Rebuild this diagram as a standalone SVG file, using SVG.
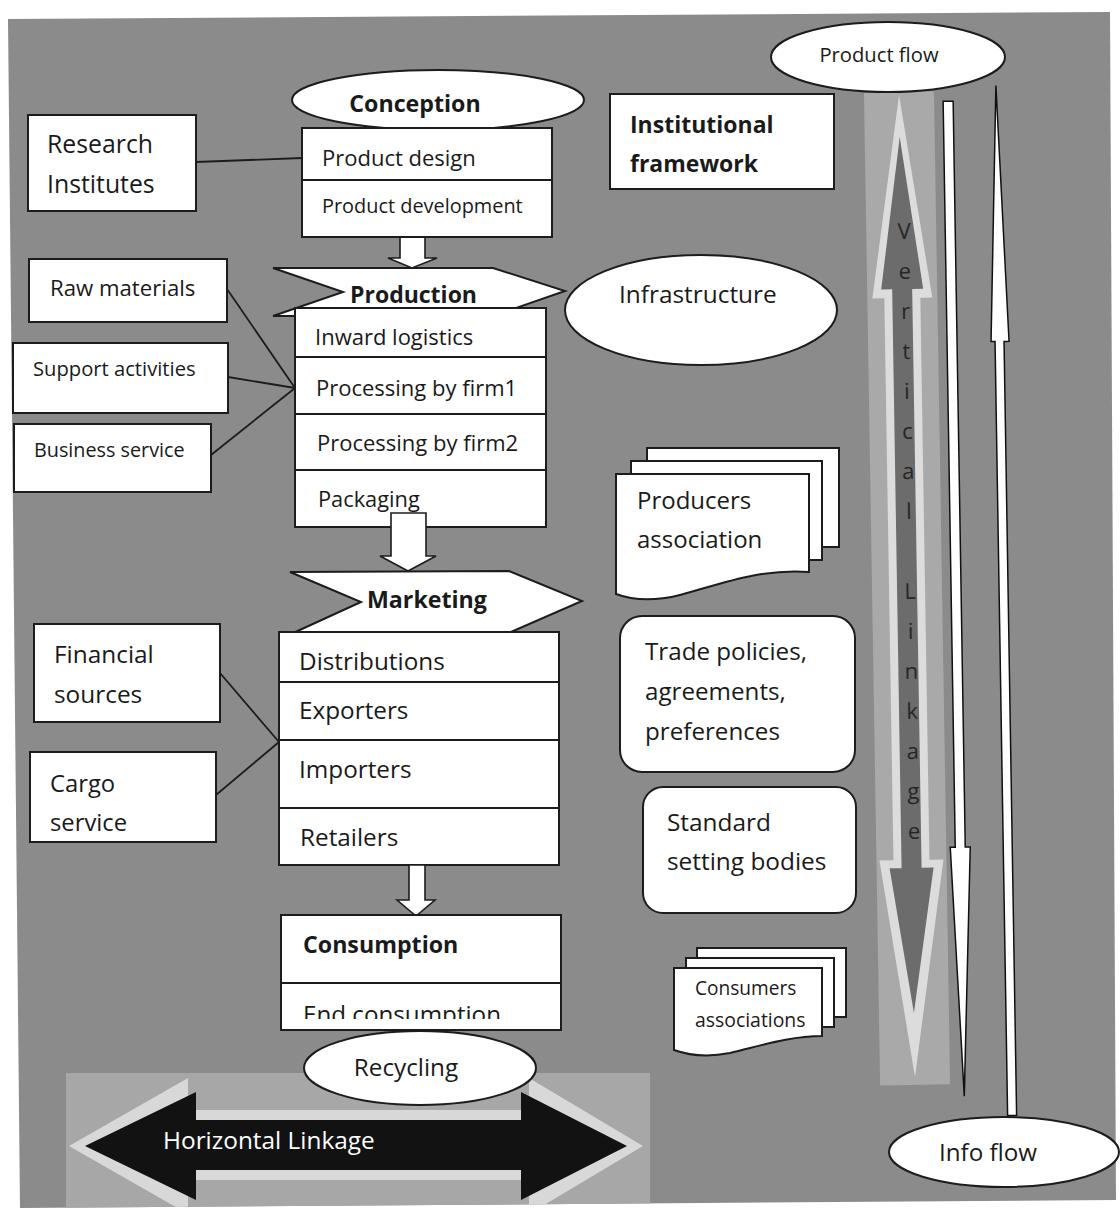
<svg xmlns="http://www.w3.org/2000/svg" width="1120" height="1217" viewBox="0 0 1120 1217">
  <defs>
    <style>
      .box { fill: #ffffff; stroke: #1c1c1c; stroke-width: 2; }
      .link { fill: none; stroke: #1c1c1c; stroke-width: 1.8; }
      .blk { fill: #ffffff; stroke: #1c1c1c; stroke-width: 1.6; stroke-linejoin: miter; }
      .thin { fill: #ffffff; stroke: #111111; stroke-width: 1.5; }
      .t { font-family: "Open Sans", "Liberation Sans", sans-serif; fill: #1a1a1a; }
      .b { font-weight: bold; }
      .vl { font-family: "Open Sans", "Liberation Sans", sans-serif; font-size: 22px; fill: #262626; text-anchor: middle; }
    </style>
    <clipPath id="panelClip">
      <polygon points="8,19 1110,12 1116,1200 20,1208"/>
    </clipPath>
    <clipPath id="endClip">
      <rect x="282" y="984" width="278" height="35"/>
    </clipPath>
  </defs>

  <!-- page -->
  <rect x="0" y="0" width="1120" height="1217" fill="#ffffff"/>
  <!-- grey panel -->
  <polygon points="8,19 1110,12 1116,1200 20,1208" fill="#8b8b8b"/>

  <g clip-path="url(#panelClip)">
    <!-- horizontal linkage band -->
    <g id="horizontal-linkage">
      <rect x="66" y="1073" width="584" height="140" fill="#a7a7a7"/>
      <polygon points="69,1146 188,1078 188,1110 529,1110 529,1078 643,1146 529,1214 529,1180 188,1180 188,1214" fill="#d8d8d8"/>
      <polygon points="85,1146 196,1092 196,1120 521,1120 521,1092 627,1146 521,1200 521,1170 196,1170 196,1200" fill="#121212"/>
      <text class="t" x="163" y="1149" font-size="24.4" style="fill:#ffffff">Horizontal Linkage</text>
    </g>

    <!-- vertical linkage band -->
    <g id="vertical-linkage" transform="rotate(-0.93 907 586)">
      <rect x="872" y="92" width="70" height="993" fill="#a9a9a9"/>
      <polygon points="907,95 937,298 925,298 925,860 939,860 907,1077 875,860 889,860 889,298 877,298" fill="#dcdcdc"/>
      <polygon points="907,137 928,289 917,289 917,868 929,868 907,1013 885,868 897,868 897,289 886,289" fill="#6c6c6c"/>
      <text class="vl" x="910" y="239">V</text>
      <text class="vl" x="910" y="279">e</text>
      <text class="vl" x="910" y="319">r</text>
      <text class="vl" x="910" y="359">t</text>
      <text class="vl" x="910" y="399">i</text>
      <text class="vl" x="910" y="439">c</text>
      <text class="vl" x="910" y="479">a</text>
      <text class="vl" x="910" y="519">l</text>
      <text class="vl" x="910" y="599">L</text>
      <text class="vl" x="910" y="639">i</text>
      <text class="vl" x="910" y="679">n</text>
      <text class="vl" x="910" y="719">k</text>
      <text class="vl" x="910" y="759">a</text>
      <text class="vl" x="910" y="799">g</text>
      <text class="vl" x="910" y="839">e</text>
    </g>
  </g>

  <!-- connectors -->
  <g id="connectors">
    <line class="link" x1="196" y1="162" x2="302" y2="158"/>
    <line class="link" x1="227" y1="289" x2="295" y2="388"/>
    <line class="link" x1="228" y1="377" x2="295" y2="388"/>
    <line class="link" x1="211" y1="455" x2="295" y2="388"/>
    <line class="link" x1="220" y1="673" x2="279" y2="742"/>
    <line class="link" x1="216" y1="795" x2="279" y2="742"/>
    <g transform="rotate(-0.93 907 586)">
      <polygon class="thin" points="951,102 961,102 961,848 966,848 956,1097 946,848 951,848"/>
      <polygon class="thin" points="1004,87 1013,343 1008,343 1008,1117 999,1117 999,343 995,343"/>
    </g>
    <polygon class="blk" points="400,237 425,237 425,258 437,258 412,268 388,258 400,258"/>
  </g>

  <!-- conception stage -->
  <g id="conception">
    <ellipse class="box" cx="438" cy="100" rx="146" ry="30"/>
    <text class="t b" x="415" y="112" font-size="23.2" text-anchor="middle">Conception</text>
  </g>
  <g id="research-institutes">
    <rect class="box" x="28" y="115" width="168" height="96"/>
    <text class="t" x="47" y="153" font-size="24.8">Research</text>
    <text class="t" x="47" y="193" font-size="24.8">Institutes</text>
  </g>
  <g id="product-design">
    <rect class="box" x="302" y="128" width="250" height="109"/>
    <line class="link" x1="302" y1="180" x2="552" y2="180"/>
    <text class="t" x="322" y="166" font-size="22">Product design</text>
    <text class="t" x="322" y="213" font-size="19.9">Product development</text>
  </g>
  <g id="institutional-framework">
    <rect class="box" x="610" y="94" width="224" height="95"/>
    <text class="t b" x="630" y="133" font-size="23">Institutional</text>
    <text class="t b" x="630" y="172" font-size="23">framework</text>
  </g>
  <g id="product-flow">
    <ellipse class="box" cx="888" cy="57" rx="117" ry="35"/>
    <text class="t" x="879" y="62" font-size="20.2" text-anchor="middle">Product flow</text>
  </g>

  <!-- production stage -->
  <g id="production">
    <polygon class="box" points="273,268 493,268 565,291 493,316 273,316 343,292"/>
    <text class="t b" x="350" y="303" font-size="23">Production</text>
  </g>
  <g id="production-steps">
    <rect class="box" x="295" y="308" width="251" height="219"/>
    <line class="link" x1="295" y1="357" x2="546" y2="357"/>
    <line class="link" x1="295" y1="414" x2="546" y2="414"/>
    <line class="link" x1="295" y1="470" x2="546" y2="470"/>
    <text class="t" x="315" y="345" font-size="22">Inward logistics</text>
    <text class="t" x="316" y="396" font-size="22">Processing by firm1</text>
    <text class="t" x="317" y="451" font-size="22">Processing by firm2</text>
    <text class="t" x="318" y="507" font-size="21.8">Packaging</text>
  </g>
  <g id="raw-materials">
    <rect class="box" x="29" y="259" width="198" height="63"/>
    <text class="t" x="50" y="296" font-size="22.2">Raw materials</text>
  </g>
  <g id="support-activities">
    <rect class="box" x="13" y="343" width="215" height="70"/>
    <text class="t" x="33" y="376" font-size="20.2">Support activities</text>
  </g>
  <g id="business-service">
    <rect class="box" x="14" y="424" width="197" height="68"/>
    <text class="t" x="34" y="457" font-size="19.8">Business service</text>
  </g>
  <g id="infrastructure">
    <ellipse class="box" cx="701" cy="310" rx="136" ry="55"/>
    <text class="t" x="619" y="303" font-size="24.4">Infrastructure</text>
  </g>
  <g id="producers-association">
    <rect class="box" x="647" y="448" width="192" height="99"/>
    <rect class="box" x="631" y="461" width="191" height="99"/>
    <path class="box" d="M616,474 H809 V572 C760,568 718,585 680,595 C652,602 632,600 616,594 Z"/>
    <text class="t" x="637" y="509" font-size="24">Producers</text>
    <text class="t" x="637" y="548" font-size="24">association</text>
  </g>

  <!-- marketing stage -->
  <g id="marketing">
    <polygon class="box" points="290,572 509,571 582,601 511,632 291,634 361,602"/>
    <text class="t b" x="367" y="608" font-size="23.2">Marketing</text>
  </g>
  <polygon class="blk" points="391,513 426,513 426,556 436,556 408,571 380,556 391,556"/>
  <g id="marketing-steps">
    <rect class="box" x="279" y="632" width="280" height="233"/>
    <line class="link" x1="279" y1="682" x2="559" y2="682"/>
    <line class="link" x1="279" y1="740" x2="559" y2="740"/>
    <line class="link" x1="279" y1="808" x2="559" y2="808"/>
    <text class="t" x="299" y="670" font-size="24.3">Distributions</text>
    <text class="t" x="299" y="719" font-size="24.3">Exporters</text>
    <text class="t" x="299" y="778" font-size="24.3">Importers</text>
    <text class="t" x="300" y="846" font-size="24.3">Retailers</text>
  </g>
  <g id="financial-sources">
    <rect class="box" x="34" y="624" width="186" height="98"/>
    <text class="t" x="54" y="663" font-size="24.4">Financial</text>
    <text class="t" x="54" y="703" font-size="24.4">sources</text>
  </g>
  <g id="cargo-service">
    <rect class="box" x="30" y="752" width="186" height="90"/>
    <text class="t" x="50" y="792" font-size="23.8">Cargo</text>
    <text class="t" x="50" y="831" font-size="23.8">service</text>
  </g>
  <g id="trade-policies">
    <rect class="box" x="620" y="616" width="235" height="156" rx="22"/>
    <text class="t" x="645" y="660" font-size="24.2">Trade policies,</text>
    <text class="t" x="645" y="700" font-size="24.2">agreements,</text>
    <text class="t" x="645" y="740" font-size="24.2">preferences</text>
  </g>
  <g id="standard-setting-bodies">
    <rect class="box" x="643" y="787" width="213" height="126" rx="20"/>
    <text class="t" x="667" y="831" font-size="24.4">Standard</text>
    <text class="t" x="667" y="870" font-size="24.4">setting bodies</text>
  </g>

  <!-- consumption stage -->
  <polygon class="blk" points="409,865 425,865 425,900 435,900 416,916 397,900 409,900"/>
  <g id="consumption">
    <rect class="box" x="281" y="915" width="280" height="115"/>
    <line class="link" x1="281" y1="983" x2="561" y2="983"/>
    <text class="t b" x="303" y="953" font-size="23.2">Consumption</text>
    <text class="t" x="303" y="1023" font-size="24.2" clip-path="url(#endClip)">End consumption</text>
  </g>
  <g id="consumers-associations">
    <rect class="box" x="697" y="948" width="149" height="69"/>
    <rect class="box" x="686" y="958" width="148" height="69"/>
    <path class="box" d="M674,968 H822 V1036 C790,1036 760,1046 730,1053 C705,1058 688,1055 674,1050 Z"/>
    <text class="t" x="695" y="995" font-size="19.1">Consumers</text>
    <text class="t" x="695" y="1027" font-size="19.4">associations</text>
  </g>
  <g id="recycling">
    <ellipse class="box" cx="420" cy="1068" rx="116" ry="37"/>
    <text class="t" x="406" y="1076" font-size="24.3" text-anchor="middle">Recycling</text>
  </g>
  <g id="info-flow">
    <ellipse class="box" cx="1004" cy="1152" rx="115" ry="35"/>
    <text class="t" x="988" y="1161" font-size="24.2" text-anchor="middle">Info flow</text>
  </g>
</svg>
